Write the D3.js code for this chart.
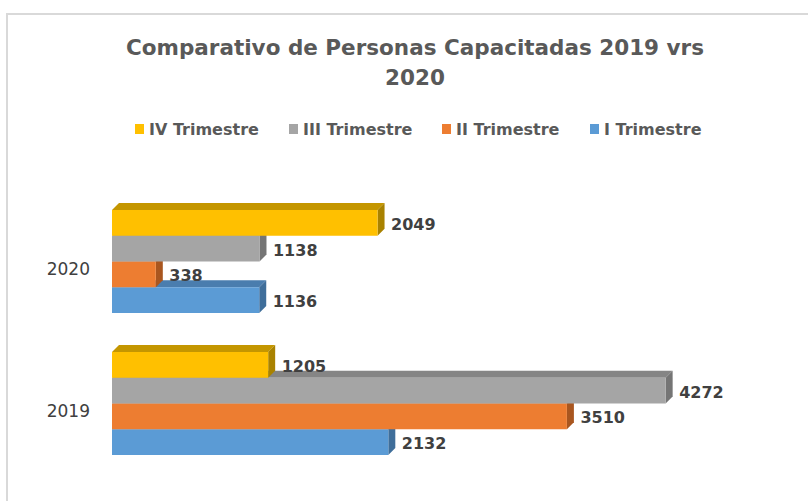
<!DOCTYPE html>
<html>
<head>
<meta charset="utf-8">
<script src="https://cdn.jsdelivr.net/npm/d3@7"></script>
<style>
  html, body { margin: 0; padding: 0; background: #fff; }
  svg { display: block; }
</style>
</head>
<body>
<svg id="chart" width="808" height="501"></svg>
<script>
// Categories (years) and the quarterly series
const years = ["2020", "2019"];
const seriesNames = ["IV Trimestre", "III Trimestre", "II Trimestre", "I Trimestre"];
const ivTrimestre = [2049, 1205];
const iiiTrimestre = [1138, 4272];
const iiTrimestre = [338, 3510];
const iTrimestre = [1136, 2132];
const xTicks = [0, 1000, 2000, 3000, 4000, 5000];

const seriesValues = [ivTrimestre, iiiTrimestre, iiTrimestre, iTrimestre];
const seriesColors = ["#FFC000", "#A5A5A5", "#ED7D31", "#5B9BD5"];
const topColors = ["#C49600", "#858585", "#BE6226", "#4A7DAE"];
const sideColors = ["#A98200", "#757575", "#A9561F", "#3F6E9A"];

const svg = d3.select("#chart");

// chart frame
svg.append("path")
  .attr("d", "M7,510 L7,14 L820,14")
  .attr("fill", "none")
  .attr("stroke", "#d9d9d9")
  .attr("stroke-width", 2);

// Title
const title = svg.append("text")
  .attr("text-anchor", "middle")
  .attr("font-family", "DejaVu Sans, sans-serif")
  .attr("font-weight", "bold")
  .attr("font-size", 21.5)
  .attr("fill", "#595959");
title.append("tspan").attr("x", 415).attr("y", 55).text("Comparativo de Personas Capacitadas 2019 vrs");
title.append("tspan").attr("x", 415).attr("y", 85).text("2020");

// Legend
const legendX = [135, 289, 442, 590];
const legend = svg.append("g").attr("font-family", "DejaVu Sans, sans-serif")
  .attr("font-size", 16).attr("font-weight", "bold").attr("fill", "#595959");
seriesNames.forEach((name, i) => {
  legend.append("rect").attr("x", legendX[i]).attr("y", 124).attr("width", 9).attr("height", 10)
    .attr("fill", seriesColors[i]);
  legend.append("text").attr("x", legendX[i] + 14).attr("y", 135).text(name);
});

// Scales
const x = d3.scaleLinear().domain([0, d3.max(xTicks)]).range([112, 760]);
const y = d3.scaleBand().domain(years).range([190.5, 474.5]).padding(0);
const inner = d3.scaleBand().domain(seriesNames).range([-51.5, 51.5]).padding(0);

const dx = 7, dy = 7;

// Category labels
svg.append("g").selectAll("text").data(years).join("text")
  .attr("x", 90)
  .attr("y", d => y(d) + y.bandwidth() / 2 + 13)
  .attr("text-anchor", "end")
  .attr("font-family", "DejaVu Sans, sans-serif")
  .attr("font-size", 17)
  .attr("fill", "#404040")
  .text(d => d);

// Bars drawn bottom series first so upper fronts overlap lower tops
const bars = svg.append("g");
const labels = [];
for (let s = seriesNames.length - 1; s >= 0; s--) {
  years.forEach((yr, c) => {
    const v = seriesValues[s][c];
    const x0 = x(0), x1 = x(v);
    const y0 = y(yr) + y.bandwidth() / 2 + inner(seriesNames[s]);
    const y1 = y0 + inner.bandwidth();
    const g = bars.append("g");
    g.append("path")
      .attr("d", `M${x0},${y0} L${x0 + dx},${y0 - dy} L${x1 + dx},${y0 - dy} L${x1},${y0} Z`)
      .attr("fill", topColors[s]);
    g.append("path")
      .attr("d", `M${x1},${y0} L${x1 + dx},${y0 - dy} L${x1 + dx},${y1 - dy} L${x1},${y1} Z`)
      .attr("fill", sideColors[s]);
    g.append("rect")
      .attr("x", x0).attr("y", y0)
      .attr("width", x1 - x0).attr("height", y1 - y0)
      .attr("fill", seriesColors[s]);
    labels.push({ v, x: x1 + 13.5, y: (y0 + y1) / 2 + 7 });
  });
}

// Value labels
svg.append("g").selectAll("text").data(labels).join("text")
  .attr("x", d => d.x)
  .attr("y", d => d.y)
  .attr("font-family", "DejaVu Sans, sans-serif")
  .attr("font-weight", "bold")
  .attr("font-size", 16)
  .attr("fill", "#404040")
  .text(d => d.v);
</script>
</body>
</html>
